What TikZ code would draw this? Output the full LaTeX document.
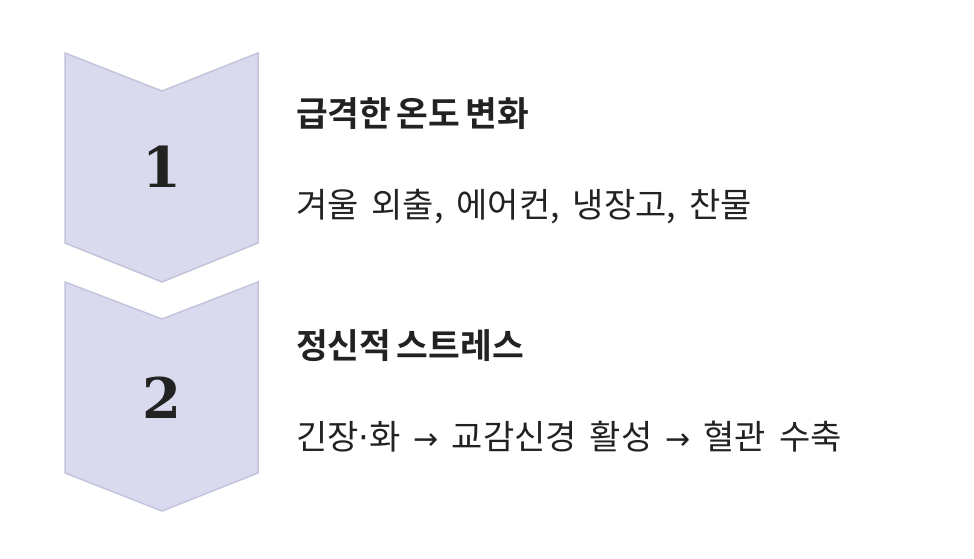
\documentclass[tikz,border=0pt]{standalone}
\usepackage{fontspec}
\newfontfamily\krreg[WordSpace=1.7]{Noto Sans CJK KR}
\newfontfamily\krbold[WordSpace=0.7]{Noto Sans CJK KR Bold}
\newfontfamily\numfont{DejaVu Serif}
\newfontfamily\symfont{DejaVu Sans}
\newcommand{\arr}{{\symfont\fontsize{30}{30}\selectfont →}}
\newcommand{\mdot}{{\symfont ·}}
\definecolor{chevfill}{HTML}{D9DAEE}
\definecolor{chevline}{HTML}{C4C5DC}
\definecolor{txt}{HTML}{222222}
\tikzset{
  chev/.style={fill=chevfill,draw=chevline,line width=1.5pt,line join=miter},
  numlbl/.style={inner sep=0pt,text=txt,font=\numfont\bfseries\fontsize{56}{56}\selectfont},
  titlelbl/.style={inner sep=0pt,anchor=west,text=txt,font=\krbold\fontsize{34.5}{34.5}\selectfont},
  desclbl/.style={inner sep=0pt,anchor=west,text=txt,font=\krreg\fontsize{34}{34}\selectfont}
}
\begin{document}
\begin{tikzpicture}[x=1pt,y=-1pt]
\useasboundingbox (0,0) rectangle (974,558);
\fill[white] (0,0) rectangle (974,558);
\draw[chev] (65,53) -- (162,91) -- (258,53) -- (258,243) -- (162,282) -- (65,243) -- cycle;
\draw[chev] (65,282) -- (162,319) -- (258,282) -- (258,473) -- (162,511) -- (65,473) -- cycle;
\node[numlbl] (n1) at (162,167) {1};
\node[numlbl] (n2) at (162,398) {2};
\node[titlelbl] (t1) at (296,114) {급격한 온도 변화};
\node[desclbl] (d1) at (296,207) {겨울 외출, 에어컨, 냉장고, 찬물};
\node[titlelbl] (t2) at (296,346) {정신적 스트레스};
\node[desclbl] (d2) at (296,437) {긴장\mdot{}화 \arr{} 교감신경 활성 \arr{} 혈관 수축};
\end{tikzpicture}
\end{document}
